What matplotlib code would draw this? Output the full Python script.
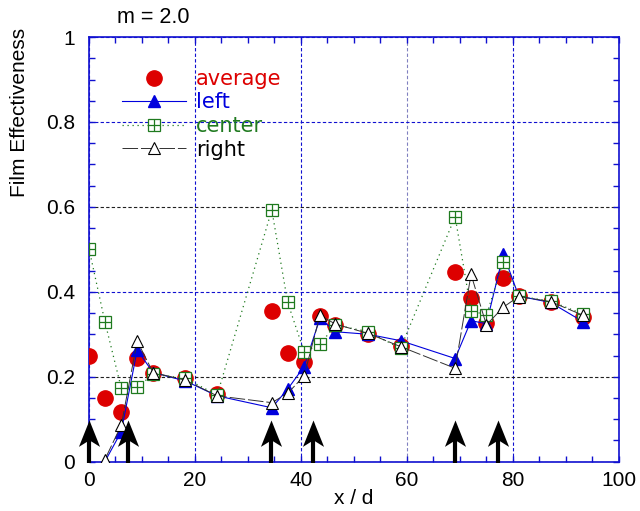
import matplotlib

matplotlib.use("Agg")
import matplotlib.pyplot as plt
import numpy as np
from matplotlib.path import Path
from matplotlib.ticker import MultipleLocator

plt.rcParams["font.family"] = ["Liberation Sans", "DejaVu Sans"]

# streamwise positions x/d
x_d = [0, 3, 6.1, 9.1, 12.1, 18.2, 24.2, 34.5, 37.5, 40.6, 43.6, 46.5,
       52.7, 58.8, 69.1, 72.1, 75.0, 78.2, 81.1, 87.1, 93.2]

average = [0.249, 0.151, 0.118, 0.245, 0.210, 0.196, 0.159, 0.355, 0.255, 0.235,
           0.343, 0.322, 0.301, 0.272, 0.446, 0.385, 0.326, 0.433, 0.391, 0.377, 0.341]
left = [np.nan, 0.000, 0.071, 0.263, 0.210, 0.190, 0.155, 0.127, 0.171, 0.224,
        0.338, 0.306, 0.300, 0.285, 0.243, 0.332, 0.325, 0.489, 0.390, 0.375, 0.330]
center = [0.502, 0.330, 0.173, 0.175, 0.206, 0.196, 0.157, 0.593, 0.375, 0.259,
          0.276, 0.322, 0.306, 0.267, 0.577, 0.356, 0.345, 0.471, 0.390, 0.378, 0.348]
right = [np.nan, 0.005, 0.086, 0.284, 0.210, 0.192, 0.155, 0.139, 0.161, 0.202,
         0.345, 0.324, 0.302, 0.271, 0.220, 0.441, 0.322, 0.364, 0.389, 0.377, 0.345]

# injection locations marked by arrows
arrow_x = [0, 7.4, 34.3, 42.2, 69.1, 77.1]
arrow_top = 0.098
arrow_base = -0.004

RED = "#dd0000"
BLUE = "#0000dd"
GREEN = "#1f7a1f"
AXIS_BLUE = "#1010d0"

# notched arrow head, tip at the marker origin
head = Path([(0, 0), (0.4, -1.0), (0, -0.75), (-0.4, -1.0), (0, 0)],
            [Path.MOVETO, Path.LINETO, Path.LINETO, Path.LINETO, Path.CLOSEPOLY])

fig = plt.figure(figsize=(6.4, 5.11), dpi=100)
ax = fig.add_axes([0.139, 0.0965, 0.828, 0.831])

h_avg, = ax.plot(x_d, average, linestyle="none", marker="o", ms=11, color=RED,
                 mec=RED, zorder=3)
h_left, = ax.plot(x_d, left, color=BLUE, lw=0.8, marker="^", ms=8, mfc=BLUE,
                  mec=BLUE, zorder=4)
h_center, = ax.plot(x_d, center, color=GREEN, lw=0.9, linestyle=(0, (1, 3)),
                    marker="s", ms=8, mfc="white", mec=GREEN, mew=0.9, zorder=5)
h_plus, = ax.plot(x_d, center, linestyle="none", marker="+", ms=8, mec=GREEN,
                  mew=0.9, zorder=5.1)
h_right, = ax.plot(x_d, right, color="#303030", lw=0.7, linestyle=(0, (16, 3)),
                   marker="^", ms=8, mfc="white", mec="black", mew=0.8, zorder=6)

ax.vlines(arrow_x, arrow_base, arrow_top - 0.04, color="black", lw=3.0,
          zorder=7, clip_on=False)
ax.plot(arrow_x, [arrow_top] * len(arrow_x), linestyle="none", marker=head,
        ms=38, color="black", mew=0, zorder=7.1, clip_on=False)

ax.set_xlim(0, 100)
ax.set_ylim(0, 1)
ax.xaxis.set_major_locator(MultipleLocator(20))
ax.xaxis.set_minor_locator(MultipleLocator(5))
ax.yaxis.set_major_locator(MultipleLocator(0.2))
ax.yaxis.set_minor_locator(MultipleLocator(0.05))
ax.set_yticks([0, 0.2, 0.4, 0.6, 0.8, 1.0], ["0", "0.2", "0.4", "0.6", "0.8", "1"])

ax.tick_params(which="both", direction="in", top=True, right=True,
               color=AXIS_BLUE, length=4.5, width=1, labelsize=15)
ax.tick_params(axis="y", pad=10)
ax.tick_params(axis="x", pad=7)
for spine in ax.spines.values():
    spine.set_color(AXIS_BLUE)
    spine.set_linewidth(1.2)

ax.grid(True, which="major", color=AXIS_BLUE, linestyle=(0, (3, 2)), lw=0.8)
for line, col in zip(ax.yaxis.get_gridlines(),
                     [AXIS_BLUE, "#202020", AXIS_BLUE, "#202020", AXIS_BLUE, AXIS_BLUE]):
    line.set_color(col)
for line, col in zip(ax.xaxis.get_gridlines(),
                     [AXIS_BLUE, AXIS_BLUE, AXIS_BLUE, AXIS_BLUE, "#8080c0", AXIS_BLUE]):
    line.set_color(col)

ax.set_xlabel("x / d", fontsize=15, labelpad=-1)
ax.set_ylabel("Film Effectiveness", fontsize=15)
ax.yaxis.set_label_coords(-0.113, 0.823)
fig.text(0.183, 0.966, "m = 2.0", fontsize=15.5, ha="left", va="center")

leg = ax.legend([h_avg, h_left, (h_center, h_plus), h_right],
                ["average", "left", "center", "right"],
                loc="upper left", bbox_to_anchor=(0.062, 0.925), frameon=False,
                borderpad=0, borderaxespad=0, handlelength=3.1,
                handletextpad=0.45, labelspacing=0.17,
                prop={"family": "DejaVu Sans", "size": 15})
for text, col in zip(leg.get_texts(), [RED, BLUE, GREEN, "black"]):
    text.set_color(col)

fig.savefig("out.png", dpi=100)
plt.close(fig)
